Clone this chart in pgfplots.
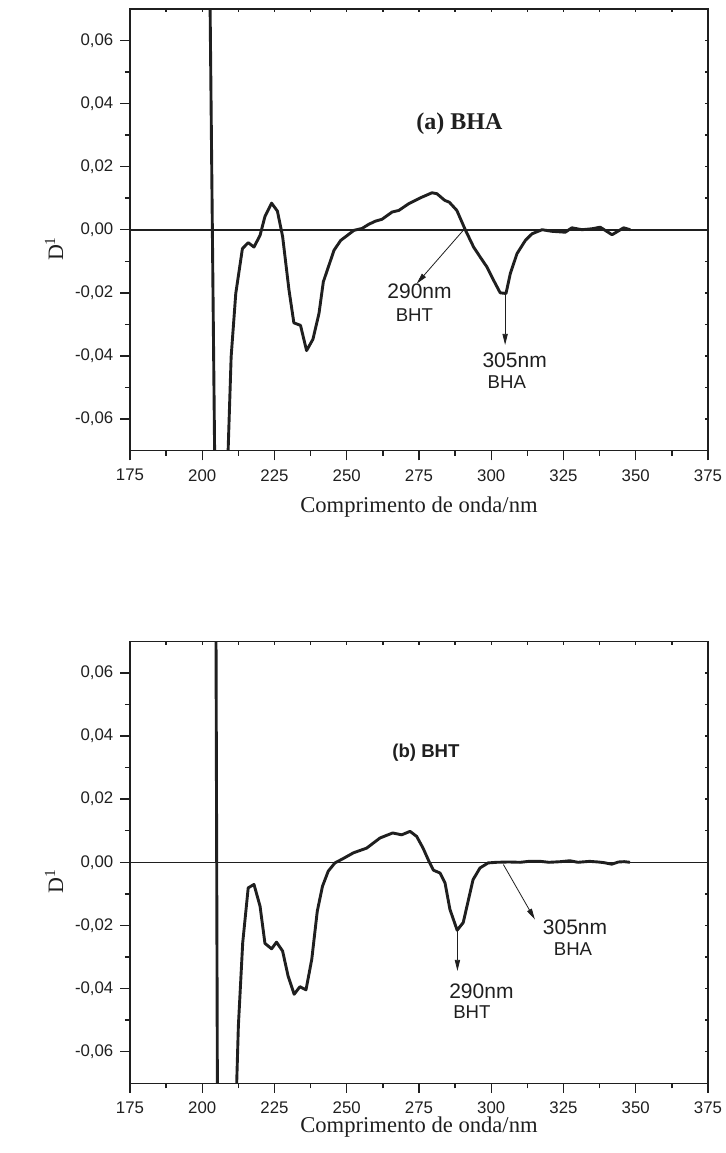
\documentclass[border=0pt]{standalone}
\usepackage{fontspec}
\setmainfont{Liberation Serif}
\newfontfamily\arial{Liberation Sans}
\usepackage{pgfplots}
\pgfplotsset{compat=1.18}
\usetikzlibrary{arrows.meta}

\colorlet{ink}{black!88}

\tikzset{
  ann/.style={line width=0.4pt, ink, -{Triangle[length=5.5pt,width=2.6pt]}},
  lab/.style={font=\arial\fontsize{10.5}{12}\selectfont, ink},
  labs/.style={font=\arial\fontsize{9.3}{11}\selectfont, ink},
}

\pgfplotsset{
  spec/.style={
    scale only axis, width=289pt, height=221pt, anchor=south west,
    xmin=175, xmax=375, ymin=-0.07, ymax=0.07,
    scaled ticks=false,
    xtick={175,200,225,250,275,300,325,350,375},
    ytick={-0.06,-0.04,-0.02,0,0.02,0.04,0.06},
    minor tick num=1,
    axis line style={line width=0.8pt, ink},
    tick style={line width=0.7pt, ink},
  },
  mirror/.style={
    spec, xtick pos=right, ytick pos=right, tick align=inside,
    major tick length=1.6pt, minor tick length=1.6pt,
    xticklabels={}, yticklabels={},
  },
  main/.style={
    spec, xtick pos=left, ytick pos=left, tick align=outside,
    major tick length=4.8pt, minor tick length=2.5pt,
    xticklabels={175,200,225,250,275,300,325,350,375},
    yticklabels={{-0,06},{-0,04},{-0,02},{0,00},{0,02},{0,04},{0,06}},
    ticklabel style={font=\arial\fontsize{8.4}{10}\selectfont, ink},
    xticklabel style={yshift=-1pt},
    xlabel={Comprimento de onda/nm},
    ylabel={D\textsuperscript{1}},
    ylabel style={font=\fontsize{11}{13}\selectfont, ink,
      at={(axis description cs:-0.1159,0.457)}, anchor=base},
  },
  curve/.style={line width=1.45pt, ink, line join=round},
}

\begin{document}
\begin{tikzpicture}
\path[use as bounding box] (0,0) rectangle (362.5pt,576.5pt);

% (a) BHA
\begin{axis}[mirror, at={(65pt,351.15pt)}]
\end{axis}
\begin{axis}[main, at={(65pt,351.15pt)},
  xlabel style={font=\fontsize{11.3}{13}\selectfont, ink,
    at={(axis description cs:0.5,0)}, anchor=base, yshift=-31pt}]
\addplot[line width=0.8pt, ink] coordinates {(175,0) (375,0)};
\addplot[curve] coordinates {
(202.5,0.09) (204.5,-0.09) (208.6,-0.08) (210.0,-0.0402) (211.6,-0.0202)
(213.9,-0.0060) (215.9,-0.0041) (217.9,-0.0055) (220.0,-0.0018) (221.7,0.0042)
(224.0,0.0084) (226.0,0.0059) (227.8,-0.0021) (230.0,-0.0190) (231.7,-0.0295)
(234.0,-0.0303) (236.1,-0.0383) (238.3,-0.0347) (240.4,-0.0265) (241.9,-0.0165)
(245.6,-0.0065) (247.9,-0.0034) (250.2,-0.0018) (252.5,-0.0002) (255.3,0.0004)
(257.6,0.0017) (259.9,0.0027) (262.2,0.0033) (265.7,0.0056) (268.0,0.0061)
(271.4,0.0082) (275.5,0.0101) (279.5,0.0117) (281.2,0.0114) (283.9,0.0093)
(285.5,0.0087) (288.1,0.0061) (291.0,0.0000) (293.9,-0.0055) (296.2,-0.0087)
(298.5,-0.0118) (300.8,-0.0160) (303.1,-0.0200) (305.1,-0.0202) (306.6,-0.0139)
(308.9,-0.0076) (311.8,-0.0034) (314.1,-0.0013) (317.6,0.0000) (320.9,-0.0005)
(325.6,-0.0008) (327.9,0.0006) (331.4,0.0000) (334.9,0.0003) (337.7,0.0008)
(341.8,-0.0016) (345.8,0.0006) (348.1,0.0000)
};
\node[font=\bfseries\fontsize{12}{14}\selectfont, ink] at (axis cs:289.0,0.0336) {(a) BHA};
\draw[ann] (axis cs:290.5,0) -- (axis cs:274.2,-0.0171);
\node[lab] at (axis cs:275.2,-0.0196) {290nm};
\node[labs] at (axis cs:273.4,-0.0271) {BHT};
\draw[ann] (axis cs:304.8,-0.0201) -- (axis cs:304.8,-0.0365);
\node[lab] at (axis cs:308.1,-0.0413) {305nm};
\node[labs] at (axis cs:305.4,-0.0484) {BHA};
\end{axis}

% (b) BHT
\begin{axis}[mirror, at={(65pt,34.85pt)}]
\end{axis}
\begin{axis}[main, at={(65pt,34.85pt)},
  xlabel style={font=\fontsize{11.3}{13}\selectfont, ink,
    at={(axis description cs:0.5,0)}, anchor=base, yshift=-24.5pt}]
\addplot[line width=0.8pt, ink] coordinates {(175,0) (375,0)};
\addplot[curve] coordinates {
(204.7,0.09) (205.3,-0.09) (211.6,-0.08) (212.5,-0.0518) (214.0,-0.0255)
(215.9,-0.0081) (217.9,-0.0070) (220.0,-0.0139) (221.7,-0.0257) (224.0,-0.0274)
(225.7,-0.0253) (227.8,-0.0281) (229.7,-0.0360) (231.8,-0.0418) (233.8,-0.0394)
(235.9,-0.0404) (237.9,-0.0307) (239.8,-0.0155) (241.6,-0.0076) (243.6,-0.0028)
(245.9,-0.0002) (248.8,0.0012) (252.3,0.0030) (256.9,0.0045) (261.5,0.0077)
(265.9,0.0093) (269.0,0.0087) (271.9,0.0098) (274.2,0.0082) (276.4,0.0045)
(278.6,0.0000) (280.0,-0.0025) (282.3,-0.0034) (284.0,-0.0065) (285.7,-0.0149)
(288.2,-0.0215) (290.3,-0.0191) (292.0,-0.0123) (293.7,-0.0055) (296.1,-0.0018)
(298.9,-0.0002) (301.8,0.0000) (306.0,0.0001) (310.0,0.0000) (313.0,0.0003)
(317.0,0.0003) (320.0,0.0000) (324.0,0.0002) (327.2,0.0005) (330.0,0.0000)
(334.0,0.0003) (337.0,0.0001) (339.0,-0.0001) (341.7,-0.0006) (344.0,0.0001)
(346.0,0.0002) (348.0,0.0000)
};
\node[font=\arial\bfseries\fontsize{9.3}{11}\selectfont, ink] at (axis cs:277.4,0.0348) {(b) BHT};
\draw[ann] (axis cs:288.3,-0.0215) -- (axis cs:288.3,-0.0344);
\node[lab] at (axis cs:296.6,-0.0407) {290nm};
\node[labs] at (axis cs:293.3,-0.0475) {BHT};
\draw[ann] (axis cs:304.2,-0.0007) -- (axis cs:315.1,-0.0181);
\node[lab] at (axis cs:329.0,-0.0206) {305nm};
\node[labs] at (axis cs:328.3,-0.0275) {BHA};
\end{axis}
\end{tikzpicture}
\end{document}
